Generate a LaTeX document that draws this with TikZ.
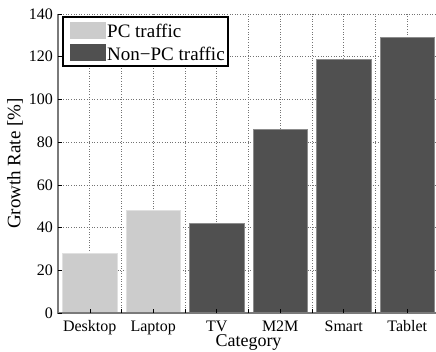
\documentclass[tikz,border=0pt]{standalone}
\usepackage{fontspec}
\setmainfont{Liberation Serif}
\usetikzlibrary{positioning}
\definecolor{pcgray}{HTML}{CCCCCC}
\definecolor{npcgray}{HTML}{505050}
\definecolor{axisgray}{HTML}{7A7A7A}
\tikzset{
  gridline/.style={black!55,dotted,line width=0.6pt},
  pcbar/.style={fill=pcgray,draw=black!12,line width=0.5pt},
  npcbar/.style={fill=npcgray,draw=black!45,line width=0.5pt},
  tickmark/.style={black,line width=0.5pt},
  ticklabel/.style={font=\fontsize{16}{16}\selectfont,inner sep=0pt},
  axislabel/.style={font=\fontsize{19}{19}\selectfont,inner sep=0pt},
  legendtext/.style={font=\fontsize{19}{19}\selectfont,inner sep=0pt,anchor=base west},
}
\begin{document}
\begin{tikzpicture}[x=63.5pt,y=2.136pt]
  \useasboundingbox (-0.4134,-17.79) rectangle (6.4528,146.54);
  % 点線のグリッド（横・縦）
  \foreach \y in {20,40,...,140}
    \draw[gridline] (0.5,\y) -- (6.5,\y);
  \foreach \x in {1,1.5,...,6}
    \draw[gridline] (\x,0) -- (\x,140);
  % PC系の棒（薄いグレー）
  \foreach \x/\h in {1/28,2/48}
    \draw[pcbar] (\x-0.433,0) rectangle (\x+0.433,\h);
  % 非PC系の棒（濃いグレー）
  \foreach \x/\h in {3/42,4/86,5/119,6/129}
    \draw[npcbar] (\x-0.433,0) rectangle (\x+0.433,\h);
  % 軸線
  \draw[axisgray,line width=1.5pt] (0.5,140) -- (0.5,0) -- (6.5,0);
  % 縦軸の目盛りとラベル
  \foreach \y in {0,20,...,140} {
    \draw[tickmark] (0.5,\y) -- ++(0.063,0);
    \node[ticklabel,anchor=east] (y\y) at (0.421,\y) {\y};
  }
  % 横軸の目盛り
  \foreach \x in {1,1.5,...,6}
    \draw[tickmark] (\x,0) -- ++(0,1.9);
  % 横軸のラベル
  \foreach \x/\name/\lab in {1/desktop/Desktop,2/laptop/Laptop,3/tv/TV,4/mtm/M2M,5/smart/Smart,6/tablet/Tablet}
    \node[ticklabel,anchor=base] (\name) at (\x,-8.43) {\lab};
  \node[axislabel,font=\fontsize{18}{18}\selectfont,anchor=base] (xlab) at (3.5,-15.9) {Category};
  \node[axislabel,rotate=90] (ylab) at (-0.177,70) {Growth Rate [\%]};
  % 凡例
  \draw[black,line width=1.2pt,fill=white] (0.579,138.6) rectangle (3.177,115.6);
  \fill[pcgray] (0.689,136.2) rectangle (1.256,128.3);
  \fill[npcgray] (0.689,125.9) rectangle (1.256,118.0);
  \node[legendtext] (pckey) at (1.272,129.0) {PC traffic};
  \node[legendtext] (npckey) at (1.272,118.4) {Non−PC traffic};
\end{tikzpicture}
\end{document}
